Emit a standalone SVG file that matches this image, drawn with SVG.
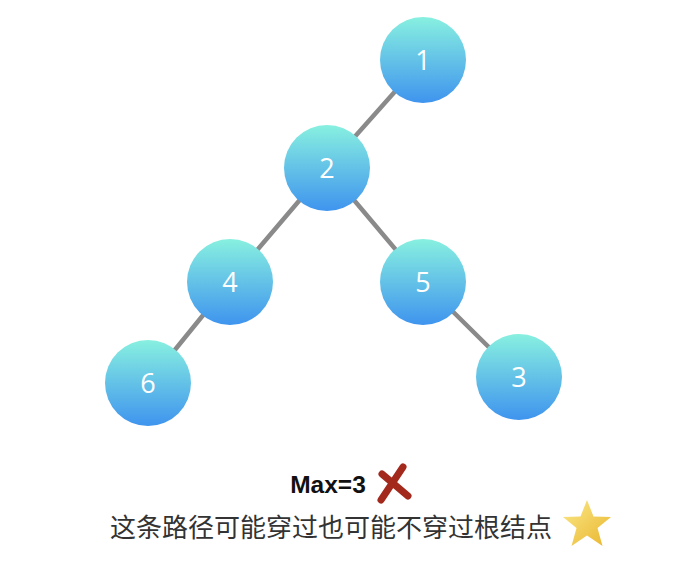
<svg xmlns="http://www.w3.org/2000/svg" width="690" height="586" viewBox="0 0 690 586">
<defs>
<linearGradient id="g" x1="0" y1="0" x2="0" y2="1">
<stop offset="0" stop-color="#88f0e0"/>
<stop offset="1" stop-color="#3f94ee"/>
</linearGradient>
<linearGradient id="sg" x1="0" y1="0" x2="1" y2="1">
<stop offset="0" stop-color="#fbe98a"/>
<stop offset="1" stop-color="#e9b52c"/>
</linearGradient>
<style>
.n{fill:url(#g)}
.t{font-family:"Open Sans","DejaVu Sans",sans-serif;font-size:27px;fill:#fff;text-anchor:middle}
.e{stroke:#8a8a8a;stroke-width:4.5;stroke-linecap:round}
</style>
</defs>
<rect width="690" height="586" fill="#fff"/>
<g id="edges">
<line class="e" x1="423" y1="60" x2="327" y2="168"/>
<line class="e" x1="327" y1="168" x2="230" y2="282"/>
<line class="e" x1="327" y1="168" x2="423" y2="282"/>
<line class="e" x1="230" y1="282" x2="148" y2="383"/>
<line class="e" x1="423" y1="282" x2="519" y2="377"/>
</g>
<g id="n1"><circle class="n" cx="423" cy="60" r="43"/><text class="t" x="423" y="70">1</text></g>
<g id="n2"><circle class="n" cx="327" cy="168" r="43"/><text class="t" x="327" y="178">2</text></g>
<g id="n4"><circle class="n" cx="230" cy="282" r="43"/><text class="t" x="230" y="292">4</text></g>
<g id="n5"><circle class="n" cx="423" cy="282" r="43"/><text class="t" x="423" y="292">5</text></g>
<g id="n6"><circle class="n" cx="148" cy="383" r="43"/><text class="t" x="148" y="393">6</text></g>
<g id="n3"><circle class="n" cx="519" cy="377" r="43"/><text class="t" x="519" y="387">3</text></g>
<g id="caption">
<text x="328" y="493" font-family="Liberation Sans, Arial, sans-serif" font-weight="bold" font-size="24.5" fill="#111" text-anchor="middle">Max=3</text>
<path d="M403 467 L381 500 M382 474 L408 496" stroke="#a3291c" stroke-width="7" stroke-linecap="round" fill="none"/>
<text x="331" y="537" font-family="Noto Sans CJK SC, sans-serif" font-size="26" fill="#333" text-anchor="middle">这条路径可能穿过也可能不穿过根结点</text>
<polygon fill="url(#sg)" points="587,500 593.5,516.5 611,517 597.5,528 602.5,546 587,535.5 571.5,546 576.5,528 563,517 580.5,516.5"/>
</g>
</svg>
